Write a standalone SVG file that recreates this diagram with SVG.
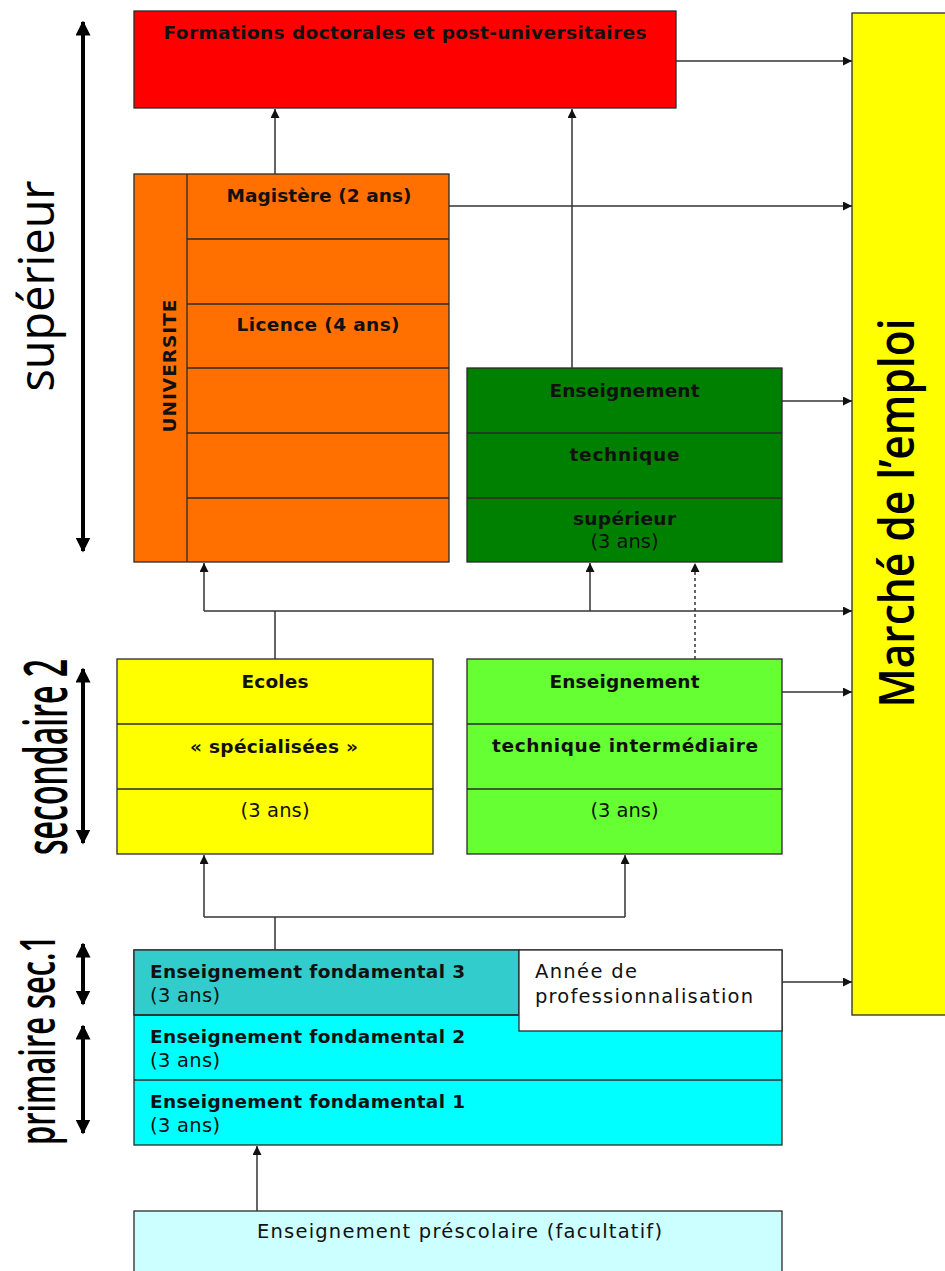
<svg xmlns="http://www.w3.org/2000/svg" width="945" height="1271" viewBox="0 0 945 1271">
<style>
.box{stroke:#2a2a2a;stroke-width:1.3}
.b{font-family:"DejaVu Sans",sans-serif;font-weight:bold;font-size:18.5px;fill:#111}
.r{font-family:"DejaVu Sans",sans-serif;font-size:19.5px;fill:#111}
.c{text-anchor:middle}
.con{stroke:#333;stroke-width:1.5;fill:none}
.big{stroke:#000;stroke-width:4;fill:none}
.lab{font-family:"Open Sans",sans-serif;fill:#000}
</style>
<defs>
<marker id="ah" viewBox="0 0 10 10" refX="10" refY="5" markerWidth="9" markerHeight="9" markerUnits="userSpaceOnUse" orient="auto"><path d="M0,0 L10,5 L0,10 z" fill="#111"/></marker>
<marker id="bh" viewBox="0 0 10 10" refX="9" refY="5" markerWidth="15" markerHeight="15" markerUnits="userSpaceOnUse" orient="auto-start-reverse"><path d="M0,0 L10,5 L0,10 z" fill="#000"/></marker>
</defs>
<rect width="945" height="1271" fill="#fff"/>

<g id="level-labels">
<line class="big" x1="83" y1="22" x2="83" y2="551" marker-start="url(#bh)" marker-end="url(#bh)"/>
<text class="lab" font-size="49" transform="translate(54,286) rotate(-90)" text-anchor="middle" textLength="211" lengthAdjust="spacingAndGlyphs">supérieur</text>
<line class="big" x1="83" y1="669" x2="83" y2="843" marker-start="url(#bh)" marker-end="url(#bh)"/>
<text class="lab" font-size="60" font-weight="600" transform="translate(67,757) rotate(-90)" text-anchor="middle" textLength="196" lengthAdjust="spacingAndGlyphs">secondaire 2</text>
<line class="big" x1="83" y1="944" x2="83" y2="1004" marker-start="url(#bh)" marker-end="url(#bh)"/>
<line class="big" x1="83" y1="1026" x2="83" y2="1133" marker-start="url(#bh)" marker-end="url(#bh)"/>
<text class="lab" font-size="49" font-weight="600" transform="translate(55,1040) rotate(-90)" text-anchor="middle" textLength="210" lengthAdjust="spacingAndGlyphs">primaire sec.1</text>
</g>

<g id="doctorat">
<rect class="box" x="134" y="11" width="542" height="97" fill="#ff0000"/>
<text class="b c" x="405" y="38.5" textLength="483" fill="#220000">Formations doctorales et post-universitaires</text>
</g>

<g id="marche-emploi">
<rect class="box" x="852" y="13" width="100" height="1002" fill="#ffff00"/>
<text class="lab" font-size="48" font-weight="600" transform="translate(914,513) rotate(-90)" text-anchor="middle" textLength="389" lengthAdjust="spacingAndGlyphs">Marché de l’emploi</text>
</g>

<g id="universite">
<rect class="box" x="134" y="174" width="315" height="388" fill="#ff7000"/>
<line class="box" x1="187" y1="174" x2="187" y2="562"/>
<line class="box" x1="187" y1="239" x2="449" y2="239"/>
<line class="box" x1="187" y1="304" x2="449" y2="304"/>
<line class="box" x1="187" y1="368" x2="449" y2="368"/>
<line class="box" x1="187" y1="433" x2="449" y2="433"/>
<line class="box" x1="187" y1="498" x2="449" y2="498"/>
<text class="b" font-size="19" transform="translate(176,366) rotate(-90)" text-anchor="middle" textLength="133">UNIVERSITE</text>
<text class="b c" x="319" y="201.5" textLength="185">Magistère (2 ans)</text>
<text class="b c" x="318" y="331" textLength="163">Licence (4 ans)</text>
</g>

<g id="technique-superieur">
<rect class="box" x="467" y="368" width="315" height="194" fill="#008000"/>
<line class="box" x1="467" y1="433" x2="782" y2="433"/>
<line class="box" x1="467" y1="498" x2="782" y2="498"/>
<text class="b c" x="624.5" y="396.5" textLength="150">Enseignement</text>
<text class="b c" x="624.5" y="460.5" textLength="110">technique</text>
<text class="b c" x="624.5" y="524.5" textLength="103">supérieur</text>
<text class="r c" x="624.5" y="548" textLength="68">(3 ans)</text>
</g>

<g id="ecoles-specialisees">
<rect class="box" x="117" y="659" width="316" height="195" fill="#ffff00"/>
<line class="box" x1="117" y1="724" x2="433" y2="724"/>
<line class="box" x1="117" y1="789" x2="433" y2="789"/>
<text class="b c" x="275" y="687.5" textLength="67">Ecoles</text>
<text class="b c" x="274" y="752.5" textLength="168">« spécialisées »</text>
<text class="r c" x="275" y="817" textLength="69">(3 ans)</text>
</g>

<g id="technique-intermediaire">
<rect class="box" x="467" y="659" width="315" height="195" fill="#66ff33"/>
<line class="box" x1="467" y1="724" x2="782" y2="724"/>
<line class="box" x1="467" y1="789" x2="782" y2="789"/>
<text class="b c" x="624.5" y="687.5" textLength="150">Enseignement</text>
<text class="b c" x="625" y="751.5" textLength="266">technique intermédiaire</text>
<text class="r c" x="624.5" y="817" textLength="68">(3 ans)</text>
</g>

<g id="fondamental">
<rect class="box" x="134" y="950" width="648" height="195" fill="#00ffff"/>
<rect class="box" x="134" y="950" width="385" height="65" fill="#33cccc"/>
<line class="box" x1="134" y1="1015" x2="782" y2="1015"/>
<line class="box" x1="134" y1="1080" x2="782" y2="1080"/>
<text class="b" x="150" y="978" textLength="315">Enseignement fondamental 3</text>
<text class="r" x="150" y="1001.5" textLength="70">(3 ans)</text>
<text class="b" x="150" y="1043" textLength="315">Enseignement fondamental 2</text>
<text class="r" x="150" y="1066.5" textLength="70">(3 ans)</text>
<text class="b" x="150" y="1108" textLength="315">Enseignement fondamental 1</text>
<text class="r" x="150" y="1131.5" textLength="70">(3 ans)</text>
</g>

<g id="professionnalisation">
<rect class="box" x="519" y="950" width="263" height="81" fill="#ffffff"/>
<text class="r" x="535" y="978" textLength="102">Année de</text>
<text class="r" x="535" y="1003" textLength="218">professionnalisation</text>
</g>

<g id="prescolaire">
<rect class="box" x="134" y="1211" width="648" height="80" fill="#ccffff"/>
<text class="r c" x="459.5" y="1238" textLength="405">Enseignement préscolaire (facultatif)</text>
</g>

<g id="connectors">
<line class="con" x1="676" y1="61" x2="852" y2="61" marker-end="url(#ah)"/>
<line class="con" x1="275" y1="174" x2="275" y2="109" marker-end="url(#ah)"/>
<line class="con" x1="449" y1="206" x2="852" y2="206" marker-end="url(#ah)"/>
<line class="con" x1="572" y1="368" x2="572" y2="109" marker-end="url(#ah)"/>
<line class="con" x1="782" y1="401" x2="852" y2="401" marker-end="url(#ah)"/>
<line class="con" x1="204" y1="611" x2="852" y2="611" marker-end="url(#ah)"/>
<line class="con" x1="204" y1="611" x2="204" y2="563" marker-end="url(#ah)"/>
<line class="con" x1="590" y1="611" x2="590" y2="563" marker-end="url(#ah)"/>
<line class="con" x1="275" y1="611" x2="275" y2="659"/>
<line class="con" x1="695" y1="659" x2="695" y2="563" stroke-dasharray="3,3" marker-end="url(#ah)"/>
<line class="con" x1="782" y1="692" x2="852" y2="692" marker-end="url(#ah)"/>
<polyline class="con" points="204,917 625,917"/>
<line class="con" x1="204" y1="917" x2="204" y2="855" marker-end="url(#ah)"/>
<line class="con" x1="625" y1="917" x2="625" y2="855" marker-end="url(#ah)"/>
<line class="con" x1="275" y1="917" x2="275" y2="950"/>
<line class="con" x1="782" y1="982" x2="852" y2="982" marker-end="url(#ah)"/>
<line class="con" x1="257" y1="1211" x2="257" y2="1146" marker-end="url(#ah)"/>
</g>
</svg>
